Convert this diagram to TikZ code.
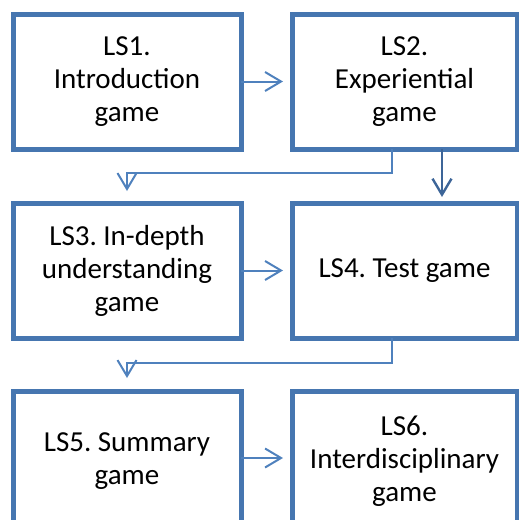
\documentclass[tikz,border=0pt]{standalone}
\usepackage{fontspec}
\setmainfont{Carlito}
\usetikzlibrary{arrows.meta}
\definecolor{boxblue}{HTML}{4676B0}
\definecolor{lineblue}{HTML}{4F81BD}
\definecolor{darkblue}{HTML}{3D6598}
\frenchspacing
\begin{document}
\begin{tikzpicture}[x=1pt,y=-1pt,
  lsbox/.style={draw=boxblue, line width=5pt, fill=white, rectangle, inner sep=0pt, outer sep=0pt,
    minimum height=135pt, align=center, font=\fontsize{29}{33}\selectfont},
  conn/.style={draw=lineblue, line width=2pt, -{Straight Barb[length=16pt,width=19pt,line width=2pt]}},
  conndark/.style={draw=darkblue, line width=2.4pt, -{Straight Barb[length=16pt,width=19pt,line width=2.4pt]}}]
\useasboundingbox (0,0) rectangle (519,520);
\node[lsbox, minimum width=228pt] (ls1) at (127,81.5) {LS1.\\Introduction\\game};
\node[lsbox, minimum width=225pt] (ls2) at (404.5,81.5) {LS2.\\Experiential\\game};
\node[lsbox, minimum width=228pt] (ls3) at (127,270.5) {LS3. In-depth\\understanding\\game};
\node[lsbox, minimum width=225pt] (ls4) at (404.5,270.5) {LS4. Test game};
\node[lsbox, minimum width=228pt, minimum height=140pt] (ls5) at (127,461) {LS5. Summary\\game};
\node[lsbox, minimum width=225pt, minimum height=140pt] (ls6) at (404.5,461) {LS6.\\Interdisciplinary\\game};
\coordinate (a1) at (392,173);
\coordinate (a2) at (127,173);
\coordinate (b1) at (392,363);
\coordinate (b2) at (127,363);
\coordinate (c1) at (442,0);
\draw[conn, shorten >=9pt] (ls1.east) -- (ls2.west);
\draw[conn, shorten >=9pt] (ls3.east) -- (ls4.west);
\draw[conn, shorten >=9pt] ([yshift=3pt]ls5.east) -- ([yshift=3pt]ls6.west);
\draw[conn, shorten >=12pt] (ls2.south -| a1) -- (a1) -- (a2) -- (ls3.north);
\draw[conn, shorten >=13pt] (ls4.south -| b1) -- (b1) -- (b2) -- (ls5.north);
\draw[conndark, shorten >=6pt] (ls2.south -| c1) -- (ls4.north -| c1);
\end{tikzpicture}
\end{document}
